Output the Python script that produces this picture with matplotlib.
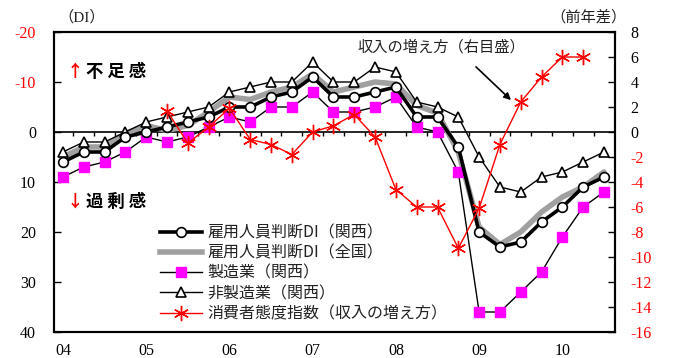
import numpy as np
import matplotlib
matplotlib.use("Agg")
import matplotlib.pyplot as plt
from matplotlib.lines import Line2D

# Quarterly observations, 2004 Q1 .. 2010 Q3
quarters = np.arange(27)
year_labels = ["04", "05", "06", "07", "08", "09", "10"]
year_positions = [0, 4, 8, 12, 16, 20, 24]

# Employment DI (Kansai), left axis
di_kansai = [6, 4, 4, 1, 0, -1, -2, -3, -5, -5, -7, -8, -11, -7, -7, -8, -9, -3, -3,
             3, 20, 23, 22, 18, 15, 11, 9]
# Employment DI (nationwide)
di_national = [5, 3, 3, 0.3, -1.3, -0.3, -1.3, -4, -7, -6.5, -8, -9, -11.6, -8, -9, -10, -9.6,
               -5.3, -3.8, 4, 19, 22.5, 20, 16, 13, 11, 8]
# Manufacturing (Kansai)
di_manufacturing = [9, 7, 6, 4, 1, 2, 1, -1, -3, -2, -5, -5, -8, -4, -4, -5, -7, -1, 0,
                    8, 36, 36, 32, 28, 21, 15, 12]
# Non-manufacturing (Kansai)
di_nonmanufacturing = [4, 2, 2, 0, -2, -3, -4, -5, -8, -9, -10, -10, -14, -10, -10, -13, -12,
                       -6, -5, -3, 5, 11, 12, 9, 8, 6, 4]
# Consumer confidence index (income growth), year-on-year change, right axis
consumer_income = [np.nan, np.nan, np.nan, np.nan, np.nan, 1.7, -0.9, 0.4, 1.9, -0.6, -1.0,
                   -1.8, 0.0, 0.5, 1.4, -0.4, -4.6, -6.0, -6.0, -9.3, -6.1, -1.0, 2.4, 4.4,
                   6.0, 6.0, np.nan]

left_ticks = [-20, -10, 0, 10, 20, 30, 40]
right_ticks = [8, 6, 4, 2, 0, -2, -4, -6, -8, -10, -12, -14, -16]

RED = "#ff0000"
MAGENTA = "#ff00ff"
GRAY = "#a0a0a0"
TXT = "#222222"
num_font = "Liberation Serif"
jp_font = ["Liberation Serif", "Noto Sans CJK JP"]

plt.rcParams["font.family"] = ["Noto Sans CJK JP", "DejaVu Sans"]

W, H = 673, 358
fig = plt.figure(figsize=(W / 100, H / 100), dpi=100)
ax = fig.add_axes([54 / W, 1 - 332 / H, (615 - 54) / W, (332 - 32) / H])
ax2 = ax.twinx()

ax.set_xlim(-0.43, 26.53)
ax.set_ylim(40, -20)
ax2.set_ylim(-16, 8)

# zero line with quarter ticks hanging below it
ax.axhline(0, color="black", lw=1.2, zorder=1)
ax.vlines(quarters[:-1] + 0.5, 0, 0.8, color="black", lw=1.0, zorder=1)

ax.plot(quarters, di_national, color=GRAY, lw=4, solid_capstyle="round", zorder=2,
        label="雇用人員判断DI（全国）")
ax.plot(quarters, di_nonmanufacturing, color="black", lw=1.0, marker="^", ms=7,
        mfc="white", mec="black", mew=1.2, zorder=3, label="非製造業（関西）")
ax.plot(quarters, di_manufacturing, color="black", lw=1.0, marker="s", ms=7,
        mfc=MAGENTA, mec=MAGENTA, zorder=3, label="製造業（関西）")
ax.plot(quarters, di_kansai, color="black", lw=2.6, marker="o", ms=7,
        mfc="white", mec="black", mew=1.2, zorder=4, label="雇用人員判断DI（関西）")
ax2.plot(quarters, consumer_income, color=RED, lw=1.0, marker=(6, 2, 0), ms=11,
         mec=RED, mew=1.0, zorder=5)

for spine in list(ax.spines.values()):
    spine.set_linewidth(1.5)
for spine in list(ax2.spines.values()):
    spine.set_linewidth(1.5)

ax.set_yticks(left_ticks)
ax.set_yticklabels([str(t) for t in left_ticks], family=num_font, fontsize=11.5)
for lbl, t in zip(ax.get_yticklabels(), left_ticks):
    lbl.set_color(RED if t < 0 else "black")
ax.tick_params(axis="y", direction="in", length=5, width=1.0, pad=13)

ax2.set_yticks(right_ticks)
ax2.set_yticklabels([str(t) for t in right_ticks], family=num_font, fontsize=11.5)
for lbl, t in zip(ax2.get_yticklabels(), right_ticks):
    lbl.set_color(RED if t < 0 else "black")
ax2.tick_params(axis="y", direction="in", length=5, width=1.0, pad=11)

ax.set_xticks(year_positions)
ax.set_xticklabels(year_labels, family=num_font, fontsize=11.5)
ax.tick_params(axis="x", length=0, pad=8)

# legend
handles = [
    Line2D([], [], color="black", lw=2.6, marker="o", ms=7, mfc="white", mec="black", mew=1.2),
    Line2D([], [], color=GRAY, lw=4),
    Line2D([], [], color="black", lw=1.0, marker="s", ms=7, mfc=MAGENTA, mec=MAGENTA),
    Line2D([], [], color="black", lw=1.0, marker="^", ms=7, mfc="white", mec="black", mew=1.2),
    Line2D([], [], color=RED, lw=1.0, marker=(6, 2, 0), ms=11, mec=RED, mew=1.0),
]
labels = ["雇用人員判断DI（関西）", "雇用人員判断DI（全国）", "製造業（関西）",
          "非製造業（関西）", "消費者態度指数（収入の増え方）"]
leg = ax.legend(handles, labels, loc="upper left", bbox_to_anchor=(160 / W, 1 - 224.5 / H),
                bbox_transform=fig.transFigure, frameon=False, fontsize=11.5, numpoints=1,
                handlelength=2.65, handletextpad=0.3, labelspacing=0.2, borderpad=0,
                borderaxespad=0)
for t in leg.get_texts():
    t.set_color(TXT)
leg.set_zorder(10)

# axis unit captions
fig.text(58 / W, 1 - 17 / H, "（DI）", family=jp_font, fontsize=11, color=TXT,
         ha="left", va="center")
fig.text(627 / W, 1 - 17 / H, "（前年差）", family=jp_font, fontsize=11, color=TXT,
         ha="right", va="center")

# shortage / surplus markers
fig.text(67 / W, 1 - 72 / H, "↑", fontsize=12, color=RED, ha="left", va="center",
         fontweight="bold")
fig.text(86 / W, 1 - 72 / H, "不 足 感", fontsize=12.5, color="black", ha="left",
         va="center", fontweight="bold")
fig.text(67 / W, 1 - 202 / H, "↓", fontsize=12, color=RED, ha="left", va="center",
         fontweight="bold")
fig.text(86 / W, 1 - 202 / H, "過 剰 感", fontsize=12.5, color="black", ha="left",
         va="center", fontweight="bold")

# right-axis note with arrow
fig.text(441 / W, 1 - 47 / H, "収入の増え方（右目盛）", fontsize=11, color=TXT,
         ha="center", va="center")
ax.annotate("", xy=(513 / W, 1 - 102 / H), xytext=(474 / W, 1 - 65 / H),
            xycoords="figure fraction", textcoords="figure fraction",
            arrowprops=dict(arrowstyle="-|>", color="black", lw=1.2, mutation_scale=10))

fig.savefig("out.png", dpi=100)
